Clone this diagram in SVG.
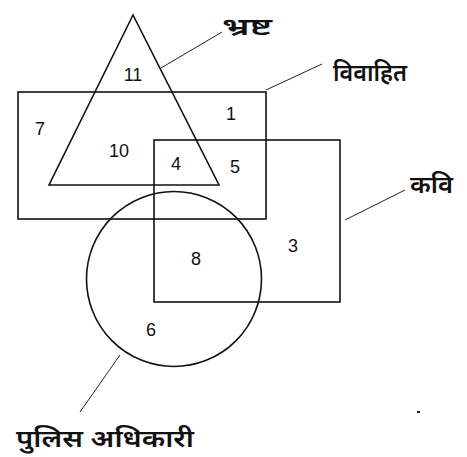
<svg xmlns="http://www.w3.org/2000/svg" width="467" height="457" viewBox="0 0 467 457">
<style>
.shape{fill:none;stroke:#111;stroke-width:1.6}
.lead{fill:none;stroke:#222;stroke-width:1}
.num{font-family:"Liberation Sans",Arial,sans-serif;font-size:18px;fill:#111;text-anchor:middle}
.lbl{font-family:"Noto Sans Devanagari","Noto Sans","Lohit Devanagari",sans-serif;font-size:24px;fill:#111;font-weight:600}
</style>
<rect width="467" height="457" fill="#fff"/>
<g id="connectors">
<line class="lead" x1="161" y1="68" x2="222" y2="32"/>
<line class="lead" x1="266" y1="90" x2="322" y2="64"/>
<line class="lead" x1="345" y1="220" x2="405" y2="190"/>
<line class="lead" x1="120" y1="355" x2="80" y2="412"/>
</g>
<g id="bhrasht">
<polygon class="shape" points="133,15 49,185 219,185"/>
<text class="lbl" x="222" y="35" textLength="50" lengthAdjust="spacingAndGlyphs">भ्रष्ट</text>
</g>
<g id="vivahit">
<rect class="shape" x="18" y="92" width="248" height="127"/>
<text class="lbl" x="333" y="81" textLength="74" lengthAdjust="spacingAndGlyphs">विवाहित</text>
</g>
<g id="kavi">
<rect class="shape" x="154" y="140" width="186" height="162"/>
<text class="lbl" x="410" y="193" textLength="43" lengthAdjust="spacingAndGlyphs">कवि</text>
</g>
<g id="police">
<circle class="shape" cx="174" cy="279" r="87.5"/>
<text class="lbl" x="16" y="447" textLength="178" lengthAdjust="spacingAndGlyphs">पुलिस अधिकारी</text>
</g>
<g id="numbers">
<text class="num" x="133" y="81">11</text>
<text class="num" x="40" y="135">7</text>
<text class="num" x="231" y="120">1</text>
<text class="num" x="119" y="157">10</text>
<text class="num" x="176" y="170">4</text>
<text class="num" x="235" y="173">5</text>
<text class="num" x="196" y="265">8</text>
<text class="num" x="293" y="252">3</text>
<text class="num" x="151" y="336">6</text>
</g>
<rect x="417" y="411" width="3" height="2" fill="#222"/>
</svg>
